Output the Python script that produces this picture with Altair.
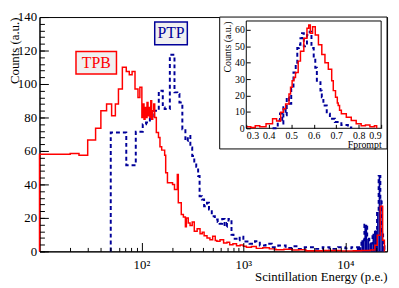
import altair as alt
import pandas as pd

# ---------------- data ----------------
# Main panel: left bin edges (p.e.) and counts, step histograms
tpb_energy = [10, 10, 20, 24.4, 29.7, 35.5, 40, 45.5, 51, 55.5, 59.5, 65, 71, 76, 81, 86.5,
              92.5, 96.5, 101, 103.5, 106, 108.5, 111, 113.5, 116, 118.5, 121, 123.5, 126,
              129, 132, 135, 140, 147, 152, 158, 169, 173, 180, 202, 211, 225, 230, 246,
              258, 270, 276, 288, 300, 315, 330, 352, 376, 395, 412, 440, 470, 500, 530,
              550, 590, 640, 690, 734, 790, 857, 930, 1000, 1070, 1200, 1340, 1550, 1800,
              2080, 2500, 3000, 3500, 4100, 6000, 9000, 12000, 14400, 17600, 19500, 20600,
              22080, 23270, 24200]
tpb_counts = [0, 58, 58.5, 57.5, 66.5, 73.5, 84, 88, 81, 88, 97, 110, 107.5, 105.5, 107.5, 97,
              92, 98, 80, 88, 79, 86, 80, 89, 81, 86, 80, 90, 79,
              84, 88, 80, 71, 68, 62.5, 60.5, 57.5, 47, 41, 40, 37, 46, 29, 22,
              20.5, 14.7, 20, 17, 15.5, 17.5, 12, 13.5, 10.5, 11.5, 9.4, 8, 7, 9, 6.5,
              6, 7, 5, 5.5, 4, 4.5, 3.3, 3.8, 3, 2.5, 2.9, 1.8, 2.2, 1.5,
              1.0, 1.3, 0.8, 1.0, 0.4, 0.5, 0.3, 0.4, 0.5, 0.8, 3.7, 9.6,
              27, 6.7, 0]

ptp_energy = [50, 50, 71, 88, 103, 111, 121, 129, 148, 162, 169, 190, 211, 225, 236, 252,
              270, 285, 302, 315, 330, 345, 360, 372, 392, 412, 440, 460, 490, 525, 560,
              585, 620, 655, 690, 715, 765, 800, 857, 920, 1000, 1150, 1300, 1450, 1650,
              1900, 2200, 2600, 3000, 3500, 4000, 5000, 6000, 7000, 8500, 10000, 11500,
              13000, 14400, 15400, 16400, 17200, 18500, 19540, 20500, 21250, 22080,
              22750, 23500, 24200]
ptp_counts = [0, 71, 51.5, 71.5, 76, 77, 80, 84, 96, 86, 85, 117.5, 95, 94, 89, 73,
              66, 69, 62, 57, 53, 50.5, 45, 33, 31, 27, 29, 25, 21, 19, 17.6,
              16.5, 19.4, 14.7, 17, 19.4, 10, 7.6, 6.7, 8.8, 5.9, 4.5, 6, 3.5, 4.5,
              2.5, 3.5, 2, 3, 1.5, 2.5, 1.5, 2.5, 1.5, 2.5, 1.8, 2.5,
              2.5, 6.7, 15.9, 7.6, 4.7, 10.6, 12.5, 23.5, 45, 31,
              12, 3, 0]

# Inset: Fprompt
fp_tpb_x = [0.30, 0.32, 0.34, 0.36, 0.388, 0.417, 0.435, 0.453, 0.465, 0.475, 0.49, 0.497,
            0.504, 0.512, 0.519, 0.531, 0.541, 0.556, 0.57, 0.578, 0.585, 0.595, 0.607,
            0.621, 0.636, 0.65, 0.665, 0.68, 0.687, 0.697, 0.705, 0.709, 0.715, 0.723,
            0.745, 0.767, 0.789, 0.811, 0.83, 0.85, 0.87, 0.88]
fp_tpb_c = [1, 0.5, 1.5, 1, 2.8, 5.8, 4.5, 9.8, 12, 14.9, 20.9, 25,
            29, 31, 34, 41, 47, 55, 61, 63, 58, 62, 57,
            51, 45, 40, 36, 29, 23, 18.9, 15.5, 13.9, 11, 8.9,
            6.8, 4.8, 2.8, 1.5, 2, 1, 1.5, 0]
fp_ptp_x = [0.417, 0.44, 0.45, 0.46, 0.465, 0.475, 0.48, 0.49, 0.5, 0.51, 0.52, 0.527,
            0.534, 0.541, 0.548, 0.556, 0.57, 0.582, 0.59, 0.6, 0.607, 0.614, 0.63,
            0.636, 0.643, 0.658, 0.672, 0.694, 0.723, 0.752, 0.767]
fp_ptp_c = [0, 4.8, 9, 3, 12.8, 8, 19, 15, 24, 34, 39, 49,
            51, 55, 58, 50, 57, 59, 49, 43, 37, 29, 23,
            19, 13.9, 8.9, 5.8, 3.8, 2, 0.5, 0]

# ticks
x_major = [100, 1000, 10000]
x_minor = [20, 30, 40, 50, 60, 70, 80, 90, 200, 300, 400, 500, 600, 700, 800, 900,
           2000, 3000, 4000, 5000, 6000, 7000, 8000, 9000, 20000]
y_major = [0, 20, 40, 60, 80, 100, 120, 140]
y_minor = list(range(0, 141, 4))
inset_x_ticks = [0.3, 0.4, 0.5, 0.6, 0.7, 0.8, 0.9]
inset_y_ticks = [0, 10, 20, 30, 40, 50, 60]

# annotations (data units)
labels = ["TPB", "PTP"]
label_x = [36, 195]
label_y = [112.7, 130.3]
box_x0 = [22.8, 135]
box_x1 = [56.9, 282]
box_y0 = [106, 123.5]
box_y1 = [119.4, 137]
inset_box = {"x0": [586], "x1": [25700], "y0": [61.2], "y1": [140]}

RED = "#ff0000"
BLUE = "#000099"
FONT = "Liberation Serif, Times New Roman, serif"
W, H = 353, 238


def steps(xs, cs):
    return pd.DataFrame({"e": xs, "c": cs, "i": list(range(len(xs)))})


tpb_df = steps(tpb_energy, tpb_counts)
ptp_df = steps(ptp_energy, ptp_counts)
fp_tpb_df = steps(fp_tpb_x, fp_tpb_c)
fp_ptp_df = steps(fp_ptp_x, fp_ptp_c)

XDOM = [10, 25700]
XS = alt.Scale(type="log", domain=XDOM, nice=False)
YS = alt.Scale(domain=[0, 140], nice=False)

x_axis = alt.Axis(values=x_major,
                  labelExpr="datum.value == 100 ? '10\u00b2' : datum.value == 1000 ? '10\u00b3' : '10\u2074'",
                  ticks=False, grid=False, labelFontSize=13, labelPadding=7,
                  labelFont=FONT, titleFont=FONT,
                  title="Scintillation Energy (p.e.)", titleFontSize=13,
                  titleFontWeight="normal", titleAnchor="end", titleBaseline="top", titleY=20)
y_axis = alt.Axis(values=y_major, ticks=False, grid=False, labelFontSize=13, labelPadding=3,
                  labelFont=FONT, titleFont=FONT,
                  title="Counts (a.u.)", titleFontSize=13, titleFontWeight="normal",
                  titleAnchor="end", titleBaseline="top", titleX=-31)


def mx(f="e"):
    return alt.X(f"{f}:Q", scale=XS, axis=x_axis)


def my(f="c"):
    return alt.Y(f"{f}:Q", scale=YS, axis=y_axis)


blue_fill = alt.Chart(ptp_df).transform_filter("datum.e >= 13000").mark_area(
    interpolate="step-after", color=BLUE).encode(x=mx(), y=my(), order="i:Q")
blue_line = alt.Chart(ptp_df).mark_line(
    interpolate="step-after", color=BLUE, strokeWidth=2, strokeDash=[4, 3]).encode(
    x=mx(), y=my(), order="i:Q")
red_line = alt.Chart(tpb_df).mark_line(
    interpolate="step-after", color=RED, strokeWidth=1.5).encode(
    x=mx(), y=my(), order="i:Q")

ib = alt.Chart(pd.DataFrame(inset_box)).mark_rect(
    fill="white", stroke="black", strokeWidth=1).encode(
    x=mx("x0"), x2="x1:Q", y=my("y0"), y2="y1:Q")

lab_df = pd.DataFrame({"label": labels, "xc": label_x, "yc": label_y,
                       "x0": box_x0, "x1": box_x1, "y0": box_y0, "y1": box_y1})
lab_scale = alt.Scale(domain=labels, range=[RED, BLUE])
lab_box = alt.Chart(lab_df).mark_rect(fill="#f0f0f0", strokeWidth=1.5).encode(
    x=mx("x0"), x2="x1:Q", y=my("y0"), y2="y1:Q",
    stroke=alt.Stroke("label:N", scale=lab_scale, legend=None))
lab_text = alt.Chart(lab_df).mark_text(font=FONT, fontSize=16).encode(
    x=mx("xc"), y=my("yc"), text="label:N",
    color=alt.Color("label:N", scale=lab_scale, legend=None))

main = alt.layer(blue_fill, blue_line, red_line, ib, lab_box, lab_text)


def xticks(vals, size):
    return alt.Chart(pd.DataFrame({"v": vals})).mark_rule(opacity=0).encode(
        x=alt.X("v:Q", scale=alt.Scale(type="log", domain=XDOM, nice=False),
                axis=alt.Axis(orient="top", offset=-H, values=vals, tickSize=size,
                              labels=False, domain=False, grid=False, title="", zindex=1)))


def yticks(vals, size):
    return alt.Chart(pd.DataFrame({"v": vals})).mark_rule(opacity=0).encode(
        y=alt.Y("v:Q", scale=alt.Scale(domain=[0, 140], nice=False),
                axis=alt.Axis(orient="right", offset=-W, values=vals, tickSize=size,
                              labels=False, domain=False, grid=False, title="", zindex=1)))


# ---------------- inset ----------------
IXR = [210, 347]
IYR = [113, 4]
IXD = [0.3, 0.9]
IYD = [0, 65.5]
IXS = alt.Scale(domain=IXD, range=IXR, nice=False)
IYS = alt.Scale(domain=IYD, range=IYR, nice=False)
ix_axis = alt.Axis(orient="bottom", offset=IYR[0] - H, values=inset_x_ticks, format=".1f",
                   ticks=False, domain=False, grid=False, labelFontSize=10, labelPadding=2,
                   labelFont=FONT, titleFont=FONT,
                   title="Fprompt", titleFontSize=10, titleFontWeight="normal",
                   titleAnchor="end", titleBaseline="top", titleY=12, zindex=1)
iy_axis = alt.Axis(orient="left", offset=-IXR[0], values=inset_y_ticks,
                   ticks=False, domain=False, grid=False, labelFontSize=10, labelPadding=2,
                   labelFont=FONT, titleFont=FONT,
                   title="Counts (a.u.)", titleFontSize=10, titleFontWeight="normal",
                   titleAnchor="end", titleBaseline="top", titleX=-24, zindex=1)


def ix(f="e"):
    return alt.X(f"{f}:Q", scale=IXS, axis=ix_axis)


def iy(f="c"):
    return alt.Y(f"{f}:Q", scale=IYS, axis=iy_axis)


iframe = alt.Chart(pd.DataFrame({"x0": [IXD[0]], "x1": [IXD[1]], "y0": [IYD[0]], "y1": [IYD[1]]})
                   ).mark_rect(fillOpacity=0, stroke="black", strokeWidth=1).encode(
    x=ix("x0"), x2="x1:Q", y=iy("y0"), y2="y1:Q")
i_blue = alt.Chart(fp_ptp_df).mark_line(
    interpolate="step-after", color=BLUE, strokeWidth=2, strokeDash=[4, 3]).encode(
    x=ix(), y=iy(), order="i:Q")
i_red = alt.Chart(fp_tpb_df).mark_line(
    interpolate="step-after", color=RED, strokeWidth=1.5).encode(
    x=ix(), y=iy(), order="i:Q")
inset = alt.layer(iframe, i_blue, i_red)

itx = alt.Chart(pd.DataFrame({"v": inset_x_ticks})).mark_rule(opacity=0).encode(
    x=alt.X("v:Q", scale=alt.Scale(domain=IXD, range=IXR, nice=False),
            axis=alt.Axis(orient="top", offset=-IYR[0], values=inset_x_ticks, tickSize=4,
                          labels=False, domain=False, grid=False, title="", zindex=1)))
ity = alt.Chart(pd.DataFrame({"v": inset_y_ticks})).mark_rule(opacity=0).encode(
    y=alt.Y("v:Q", scale=alt.Scale(domain=IYD, range=IYR, nice=False),
            axis=alt.Axis(orient="right", offset=IXR[0] - W, values=inset_y_ticks, tickSize=4,
                          labels=False, domain=False, grid=False, title="", zindex=1)))

chart = alt.layer(
    main, xticks(x_major, 9), xticks(x_minor, 4), yticks(y_major, 9), yticks(y_minor, 5),
    inset, itx, ity
).resolve_scale(x="independent", y="independent").properties(
    width=W, height=H,
    autosize=alt.AutoSizeParams(type="none"),
    padding={"left": 32, "top": 7, "right": 4, "bottom": 35},
).configure_axis(
    labelFont=FONT, titleFont=FONT, labelColor="black", titleColor="black",
    domainColor="black", tickColor="black"
).configure_view(stroke="black", strokeWidth=1)

chart.save("out.html", embed_options={"renderer": "svg", "actions": False})
